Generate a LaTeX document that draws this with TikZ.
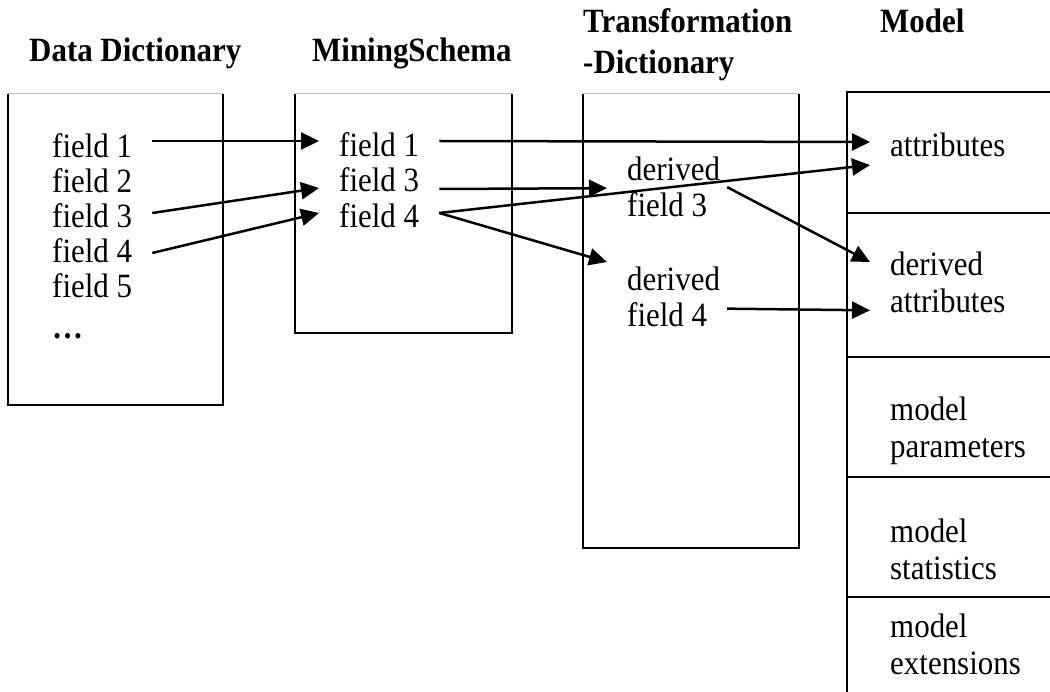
\documentclass[tikz,border=0pt]{standalone}
\usepackage{fontspec}
\setmainfont{Liberation Serif}[FakeStretch=0.91]
\usetikzlibrary{arrows.meta}

\begin{document}
\begin{tikzpicture}[x=1pt, y=-1pt,
  frame/.style={draw=black, line width=1.2pt},
  lid/.style={draw=black!25, line width=1pt},
  heading/.style={font=\fontsize{34}{41}\selectfont\bfseries, inner sep=0pt, anchor=base west},
  item/.style={font=\fontsize{34}{37}\selectfont, inner xsep=20pt, inner ysep=0pt,
               text height=20pt, text depth=0pt, anchor=base west},
  pair/.style={font=\fontsize{34}{37}\selectfont, inner xsep=20pt, inner ysep=0pt,
               align=left, anchor=north west},
  link/.style={line width=2.5pt, -{Triangle[length=18pt, width=17pt]}}
]
\useasboundingbox (0,0) rectangle (1050,692);

% ---- headings ----
\node[heading] (hdd) at (29,62) {Data Dictionary};
\node[heading] (hms) at (312,62) {MiningSchema};
\node[heading, align=left, anchor=north west] (htd) at (583,8.5) {Transformation\\-Dictionary};
\node[heading] (hmo) at (880,33) {Model};

% ---- Data Dictionary box ----
\draw[frame] (8,94) -- (8,405) -- (223,405) -- (223,94);
\draw[lid] (8,94) -- (223,94);
\node[item] (d1) at (32,158) {field 1};
\node[item] (d2) at (32,193) {field 2};
\node[item] (d3) at (32,228) {field 3};
\node[item] (d4) at (32,263) {field 4};
\node[item] (d5) at (32,298) {field 5};
\node[item, font=\fontsize{34}{37}\selectfont\bfseries] (dmore) at (32,339) {…};

% ---- MiningSchema box ----
\draw[frame] (295,94) -- (295,333) -- (512,333) -- (512,94);
\draw[lid] (295,94) -- (512,94);
\node[item] (m1) at (319,157) {field 1};
\node[item] (m3) at (319,192) {field 3};
\node[item] (m4) at (319,228) {field 4};

% ---- TransformationDictionary box ----
\draw[frame] (583,94) -- (583,548) -- (799,548) -- (799,94);
\draw[lid] (583,94) -- (799,94);
\node[pair, font=\fontsize{34}{36}\selectfont] (df3) at (607,157) {derived\\field 3};
\node[pair, font=\fontsize{34}{36}\selectfont] (df4) at (607,267) {derived\\field 4};

% ---- Model box with its sections ----
\draw[line width=1.7pt] (847,692) -- (847,92) -- (1050,92);
\foreach \yy in {213,357,477,597} \draw[frame] (847,\yy) -- (1050,\yy);
\node[item] (a1) at (870,157) {attributes};
\node[pair] (a2) at (870,252) {derived\\attributes};
\node[pair] (mp) at (870,397) {model\\parameters};
\node[pair] (mst) at (870,519) {model\\statistics};
\node[pair] (mex) at (870,614) {model\\extensions};

% ---- connectors ----
\draw[link] ([yshift=7pt]d1.east) -- ([yshift=6pt]m1.west);
\draw[link] ([yshift=5pt]d3.east) -- ([yshift=-6pt]m3.west);
\draw[link] (d4.east) -- ([yshift=5pt]m4.west);
\draw[link] ([yshift=6pt]m1.east) -- ([yshift=5pt]a1.west);
\draw[link] ([yshift=5pt]m4.east) -- ([yshift=-18pt]a1.west);
\draw[link] ([yshift=-7pt]m3.east) -- ([yshift=-1pt]df3.west);
\draw[link] ([yshift=5pt]m4.east) -- ([yshift=5pt]df4.north west);
\draw[link] ([xshift=-13pt]df3.east) -- ([yshift=-10pt]a2.north west);
\draw[link] ([xshift=-13pt,yshift=-11.5pt]df4.east) -- ([yshift=3pt]a2.south west);
\end{tikzpicture}
\end{document}
